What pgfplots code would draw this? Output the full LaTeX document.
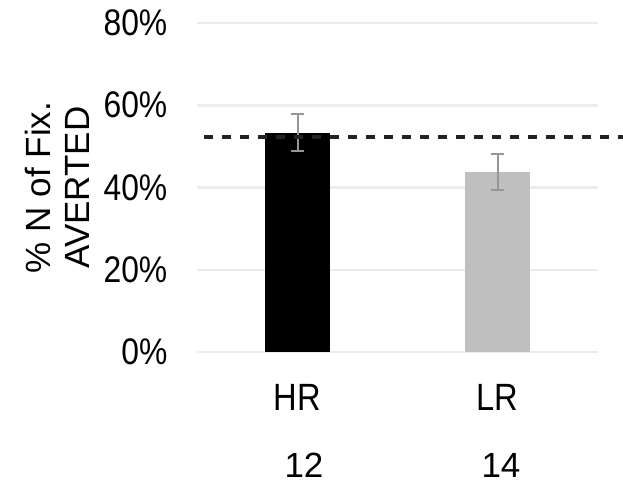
\documentclass[border=0pt]{standalone}
\usepackage{pgfplots}
\pgfplotsset{compat=1.18}
\usepackage{fontspec}
\setmainfont{Liberation Sans}
\newfontfamily\cond{Liberation Sans}[FakeStretch=0.86]
\definecolor{lrgray}{RGB}{191,191,191}
\definecolor{errgray}{RGB}{150,150,150}
\definecolor{gridgray}{RGB}{236,236,236}
\begin{document}
\begin{tikzpicture}
\path[use as bounding box] (-197.5pt,-131pt) rectangle (425.5pt,352pt);
\begin{axis}[
  at={(0,0)}, anchor=south west,
  scale only axis, width=400pt, height=329pt,
  xmin=-0.5, xmax=1.5, ymin=0, ymax=80,
  clip=false,
  axis line style={draw=none},
  major tick length=0pt,
  ymajorgrids,
  grid style={gridgray, line width=2.5pt},
  ytick={0,20,40,60,80},
  yticklabels={0\%,20\%,40\%,60\%,80\%},
  yticklabel style={font=\cond\fontsize{37}{40}\selectfont, inner sep=0pt, anchor=east, xshift=-30pt},
  xtick={0,1},
  xticklabels={HR,LR},
  xticklabel style={font=\cond\fontsize{38}{40}\selectfont, inner sep=0pt, anchor=base, yshift=-58pt},
]
\addplot[ybar, bar width=65pt, bar shift=0pt, fill=black, draw=none,
  error bars/.cd, y dir=both, y explicit,
  error bar style={errgray, line width=2pt},
  error mark options={errgray, mark size=6.5pt, line width=2pt, rotate=90}]
  coordinates {(0,53.3) +- (0,4.5)};
\addplot[ybar, bar width=65pt, bar shift=0pt, fill=lrgray, draw=none,
  error bars/.cd, y dir=both, y explicit,
  error bar style={errgray, line width=2pt},
  error mark options={errgray, mark size=6.5pt, line width=2pt, rotate=90}]
  coordinates {(1,43.8) +- (0,4.4)};
\addplot[color={rgb,255:red,35;green,35;blue,35}, line width=4pt, dash pattern=on 9pt off 9pt, forget plot]
  coordinates {(-0.4675,52.3) (1.65,52.3)};
\end{axis}
\node[rotate=90, align=center, font=\fontsize{35}{39}\selectfont] at (-140.5pt,164.5pt) {\% N of Fix.\\AVERTED};
\node[anchor=base, font=\fontsize{35}{40}\selectfont] at (106.5pt,-125pt) {12};
\node[anchor=base, font=\fontsize{35}{40}\selectfont] at (303.5pt,-125pt) {14};
\end{tikzpicture}
\end{document}
